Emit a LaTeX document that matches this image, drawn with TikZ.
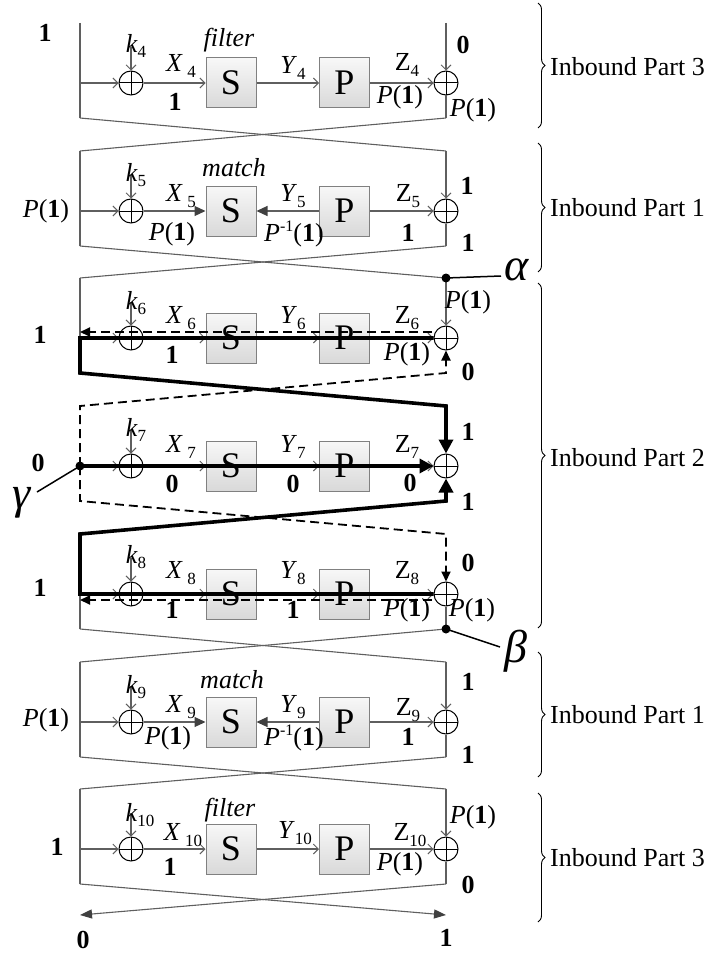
\documentclass[tikz,border=0pt]{standalone}
\usepackage{fontspec}
\setmainfont{Liberation Serif}
\usetikzlibrary{arrows.meta,decorations.pathreplacing,calc}
\definecolor{lnc}{HTML}{5F5F5F}
\definecolor{boxc}{HTML}{808080}
\definecolor{ahc}{HTML}{404040}
\newcommand\sbs[1]{\raisebox{-0.22em}{\fontsize{17}{17}\selectfont #1}}
\newcommand\sps[1]{\raisebox{0.42em}{\fontsize{16}{16}\selectfont #1}}
\newcommand\Pn{\textit{P}(\textbf{1})}
\newcommand\Pin{\textit{P}\sps{-1}(\textbf{1})}
\newcommand\bo{\textbf{1}}
\newcommand\bz{\textbf{0}}
\tikzset{
 thinl/.style={draw=lnc, line width=1.1pt},
 tarr/.style={thinl, -{Straight Barb[length=5pt,width=10pt,line width=0.9pt]}},
 farr/.style={thinl, -{Triangle[length=11pt,width=10pt,color=ahc]}},
 thickp/.style={draw=black, line width=3.6pt, line join=miter},
 thickarr/.style={thickp, -{Triangle[length=14pt,width=14pt]}},
 dashp/.style={draw=black, line width=1.8pt, dash pattern=on 9pt off 5pt},
 dasharr/.style={dashp, -{Triangle[length=10pt,width=9pt]}},
 xorc/.style={circle, draw=black, line width=1pt, minimum size=24pt, inner sep=0pt,
   path picture={\draw[line width=1pt] (path picture bounding box.north) -- (path picture bounding box.south)
     (path picture bounding box.west) -- (path picture bounding box.east);}},
 fbox/.style={draw=boxc, line width=1pt, top color=white!97!black, bottom color=white!85!black,
   minimum width=50pt, minimum height=50pt, inner sep=0pt, font=\fontsize{36}{36}\selectfont},
 lbl/.style={inner sep=0pt, font=\fontsize{26}{28}\selectfont},
 bigg/.style={inner sep=0pt, font=\fontsize{46}{46}\selectfont},
 dotc/.style={fill=black},
 brc/.style={draw=black, line width=0.9pt, decorate, decoration={brace, amplitude=7pt}},
 botarr/.style={thinl, -{Triangle[length=12pt,width=9pt,color=ahc]}}
}
\begin{document}
\begin{tikzpicture}[x=1pt,y=-1pt]
\useasboundingbox (0,0) rectangle (715,955);
% structure
\foreach \i/\y in {4/83,5/211,6/338,7/466,8/594,9/722,10/849}{
  \coordinate (Lt\i) at (80,{\y-60});
  \coordinate (Lm\i) at (80,\y);
  \coordinate (Lb\i) at (80,{\y+35});
  \coordinate (Rt\i) at (446,{\y-60});
  \coordinate (Rb\i) at (446,{\y+35});
  \coordinate (kc\i) at (131,{\y-36});
  \node[xorc] (xl\i) at (131,\y) {};
  \node[fbox] (S\i) at (231,\y) {S};
  \node[fbox] (P\i) at (344.5,\y) {P};
  \node[xorc] (xr\i) at (446,\y) {};
  \draw[tarr] (Lm\i) -- (xl\i.west);
  \draw[tarr] (kc\i) -- (xl\i.north);
  \draw[tarr] (P\i.east) -- (xr\i.west);
}
% normal F paths
\foreach \i in {4,6,7,8,10}{
  \draw[tarr] (xl\i.east) -- (S\i.west);
  \draw[tarr] (S\i.east) -- (P\i.west);
}
% match rounds
\foreach \i in {5,9}{
  \draw[farr] (xl\i.east) -- (S\i.west);
  \draw[farr] (P\i.west) -- (S\i.east);
}
% branches of normal rounds
\foreach \i in {4,5,9,10}{
  \draw[thinl] (Lt\i) -- (Lb\i);
  \draw[tarr] (Rt\i) -- (xr\i.north);
  \draw[thinl] (xr\i.south) -- (Rb\i);
}
\draw[thinl] (Lt6) -- (Lm6);
\draw[tarr] (Rt6) -- (xr6.north);
\draw[thinl] (Lm8) -- (Lb8);
\draw[thinl] (xr8.south) -- (Rb8);
% thin crossings
\foreach \i/\j in {4/5,5/6,8/9,9/10}{
  \draw[thinl] (Lb\i) -- (Rt\j);
  \draw[thinl] (Rb\i) -- (Lt\j);
}
\coordinate (e0) at (446,915);
\coordinate (e1) at (80,915);
\draw[botarr] (Lb10) -- (e0);
\draw[botarr] (Rb10) -- (e1);
% thick paths
\draw[thickarr] (xr6.west) -- (Lm6) -- (Lb6) -- (Rt7) -- (xr7.north);
\draw[thickarr] (xr8.west) -- (Lm8) -- (Lt8) -- (Rb7) -- (xr7.south);
\draw[thickarr] (Lm7) -- (xr7.west);
% dashed paths
\coordinate (d6a) at (432,332);
\coordinate (d6b) at (80,332);
\coordinate (d8a) at (432,600);
\coordinate (d8b) at (80,600);
\draw[dasharr] (d6a) -- (d6b);
\draw[dasharr] (d8a) -- (d8b);
\draw[dasharr] (Lm7) -- (Lt7) -- (Rb6) -- (xr6.south);
\draw[dasharr] (Lm7) -- (Lb7) -- (Rt8) -- (xr8.north);
% dots and greek markers
\fill[dotc] (Rt6) circle (4.5);
\fill[dotc] (Rb8) circle (4.5);
\fill[dotc] (Lm7) circle (4.5);
\coordinate (ae) at (501,276);
\coordinate (be) at (500,647);
\coordinate (ge) at (37,492);
\draw[line width=1.5pt] (Rt6) -- (ae);
\draw[line width=1.5pt] (Rb8) -- (be);
\draw[line width=1.5pt] (Lm7) -- (ge);
\node[bigg] (alpha) at (517,270) {\textit{α}};
\node[bigg] (beta) at (516,651) {\textit{β}};
\node[bigg] (gamma) at (22,503) {\textit{γ}};
% braces
\draw[brc] (538,3) -- (538,128);
\draw[brc] (538,143) -- (538,272);
\draw[brc] (538,283) -- (538,628);
\draw[brc] (538,652) -- (538,777);
\draw[brc] (538,793) -- (538,922);
\node[lbl, anchor=west] (ip3a) at (550,67) {Inbound Part 3};
\node[lbl, anchor=west] (ip1a) at (550,208) {Inbound Part 1};
\node[lbl, anchor=west] (ip2) at (550,458) {Inbound Part 2};
\node[lbl, anchor=west] (ip1b) at (550,715) {Inbound Part 1};
\node[lbl, anchor=west] (ip3b) at (550,858) {Inbound Part 3};
% round 4
\node[lbl] (l4a) at (45,33) {\bo};
\node[lbl] (l4b) at (136,46) {\textit{k}\sbs{4}};
\node[lbl] (l4c) at (181,66) {\textit{X}\,\sbs{4}};
\node[lbl] (l4d) at (229,40) {\textit{filter}};
\node[lbl] (l4e) at (175,102) {\bo};
\node[lbl] (l4f) at (293,68) {\textit{Y}\sbs{4}};
\node[lbl] (l4g) at (407,65) {Z\sbs{4}};
\node[lbl] (l4h) at (463,45) {\bz};
\node[lbl] (l4i) at (400,97) {\Pn};
\node[lbl] (l4j) at (473,110) {\Pn};
% round 5
\node[lbl] (l5a) at (46,211) {\Pn};
\node[lbl] (l5b) at (136,175) {\textit{k}\sbs{5}};
\node[lbl] (l5c) at (181,196) {\textit{X}\,\sbs{5}};
\node[lbl] (l5d) at (234,168) {\textit{match}};
\node[lbl] (l5e) at (172,234) {\Pn};
\node[lbl] (l5f) at (293,196) {\textit{Y}\sbs{5}};
\node[lbl] (l5g) at (294,234) {\Pin};
\node[lbl] (l5h) at (408,196) {Z\sbs{5}};
\node[lbl] (l5i) at (408,233) {\bo};
\node[lbl] (l5j) at (467,186) {\bo};
\node[lbl] (l5k) at (468,243) {\bo};
% round 6
\node[lbl] (l6a) at (40,335) {\bo};
\node[lbl] (l6b) at (136,303) {\textit{k}\sbs{6}};
\node[lbl] (l6c) at (181,318) {\textit{X}\,\sbs{6}};
\node[lbl] (l6d) at (172,355) {\bo};
\node[lbl] (l6e) at (293,318) {\textit{Y}\sbs{6}};
\node[lbl] (l6f) at (407,318) {Z\sbs{6}};
\node[lbl] (l6g) at (407,354) {\Pn};
\node[lbl] (l6h) at (468,302) {\Pn};
\node[lbl] (l6i) at (468,372) {\bz};
% round 7
\node[lbl] (l7a) at (38,463) {\bz};
\node[lbl] (l7b) at (136,430) {\textit{k}\sbs{7}};
\node[lbl] (l7c) at (181,447) {\textit{X}\,\sbs{7}};
\node[lbl] (l7d) at (172,484) {\bz};
\node[lbl] (l7e) at (293,447) {\textit{Y}\sbs{7}};
\node[lbl] (l7f) at (293,484) {\bz};
\node[lbl] (l7g) at (407,447) {Z\sbs{7}};
\node[lbl] (l7h) at (410,483) {\bz};
\node[lbl] (l7i) at (468,432) {\bo};
\node[lbl] (l7j) at (468,502) {\bo};
% round 8
\node[lbl] (l8a) at (40,588) {\bo};
\node[lbl] (l8b) at (136,557) {\textit{k}\sbs{8}};
\node[lbl] (l8c) at (181,573) {\textit{X}\,\sbs{8}};
\node[lbl] (l8d) at (172,610) {\bo};
\node[lbl] (l8e) at (293,573) {\textit{Y}\sbs{8}};
\node[lbl] (l8f) at (293,610) {\bo};
\node[lbl] (l8g) at (407,573) {Z\sbs{8}};
\node[lbl] (l8h) at (407,610) {\Pn};
\node[lbl] (l8i) at (468,563) {\bz};
\node[lbl] (l8j) at (472,610) {\Pn};
% round 9
\node[lbl] (l9a) at (46,720) {\Pn};
\node[lbl] (l9b) at (136,687) {\textit{k}\sbs{9}};
\node[lbl] (l9c) at (232,680) {\textit{match}};
\node[lbl] (l9d) at (181,707) {\textit{X}\,\sbs{9}};
\node[lbl] (l9e) at (168,738) {\Pn};
\node[lbl] (l9f) at (293,707) {\textit{Y}\sbs{9}};
\node[lbl] (l9g) at (294,738) {\Pin};
\node[lbl] (l9h) at (408,710) {Z\sbs{9}};
\node[lbl] (l9i) at (408,737) {\bo};
\node[lbl] (l9j) at (468,682) {\bo};
\node[lbl] (l9k) at (468,755) {\bo};
% round 10
\node[lbl] (l10a) at (57,847) {\bo};
\node[lbl] (l10b) at (140,815) {\textit{k}\sbs{10}};
\node[lbl] (l10c) at (230,810) {\textit{filter}};
\node[lbl] (l10d) at (183,835) {\textit{X}\,\sbs{10}};
\node[lbl] (l10e) at (170,867) {\bo};
\node[lbl] (l10f) at (295,833) {\textit{Y}\sbs{10}};
\node[lbl] (l10g) at (410,835) {Z\sbs{10}};
\node[lbl] (l10h) at (400,864) {\Pn};
\node[lbl] (l10i) at (473,817) {\Pn};
\node[lbl] (l10j) at (468,885) {\bz};
\node[lbl] (l10k) at (83,940) {\bz};
\node[lbl] (l10l) at (446,938) {\bo};
\end{tikzpicture}
\end{document}
